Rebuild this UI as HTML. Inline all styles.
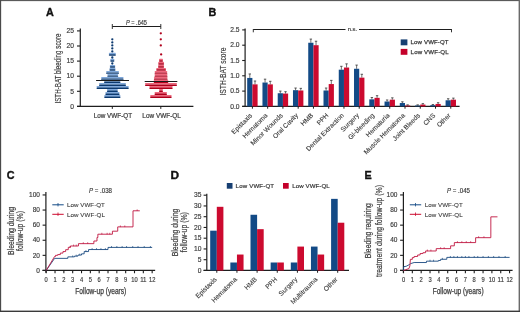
<!DOCTYPE html>
<html><head><meta charset="utf-8"><style>
html,body{margin:0;padding:0;background:#fff;}
body{width:520px;height:312px;overflow:hidden;}
svg{display:block;font-family:"Liberation Sans", sans-serif;will-change:transform;}

</style></head><body>
<svg width="520" height="312" viewBox="0 0 520 312">
<rect x="0" y="0" width="520" height="312" fill="#fff"/>
<text x="46.00" y="15.80" font-size="10.8" text-anchor="start" fill="#111" style="stroke:#111;stroke-width:0.35px" font-weight="bold">A</text>
<line x1="80.30" y1="28.60" x2="80.30" y2="107.00" stroke="#1e1e1e" stroke-width="1.2"/>
<line x1="77.00" y1="106.40" x2="193.40" y2="106.40" stroke="#1e1e1e" stroke-width="1.2"/>
<line x1="77.00" y1="106.40" x2="80.30" y2="106.40" stroke="#1e1e1e" stroke-width="1.1"/>
<text x="74.00" y="108.60" font-size="6.7" text-anchor="end" fill="#3a3a3a" style="stroke:#3a3a3a;stroke-width:0.16px">0</text>
<line x1="77.00" y1="91.30" x2="80.30" y2="91.30" stroke="#1e1e1e" stroke-width="1.1"/>
<text x="74.00" y="93.50" font-size="6.7" text-anchor="end" fill="#3a3a3a" style="stroke:#3a3a3a;stroke-width:0.16px">5</text>
<line x1="77.00" y1="76.20" x2="80.30" y2="76.20" stroke="#1e1e1e" stroke-width="1.1"/>
<text x="74.00" y="78.40" font-size="6.7" text-anchor="end" fill="#3a3a3a" style="stroke:#3a3a3a;stroke-width:0.16px">10</text>
<line x1="77.00" y1="61.10" x2="80.30" y2="61.10" stroke="#1e1e1e" stroke-width="1.1"/>
<text x="74.00" y="63.30" font-size="6.7" text-anchor="end" fill="#3a3a3a" style="stroke:#3a3a3a;stroke-width:0.16px">15</text>
<line x1="77.00" y1="46.00" x2="80.30" y2="46.00" stroke="#1e1e1e" stroke-width="1.1"/>
<text x="74.00" y="48.20" font-size="6.7" text-anchor="end" fill="#3a3a3a" style="stroke:#3a3a3a;stroke-width:0.16px">20</text>
<line x1="77.00" y1="30.90" x2="80.30" y2="30.90" stroke="#1e1e1e" stroke-width="1.1"/>
<text x="74.00" y="33.10" font-size="6.7" text-anchor="end" fill="#3a3a3a" style="stroke:#3a3a3a;stroke-width:0.16px">25</text>
<line x1="112.30" y1="106.40" x2="112.30" y2="108.90" stroke="#1e1e1e" stroke-width="1.0"/>
<line x1="160.80" y1="106.40" x2="160.80" y2="108.90" stroke="#1e1e1e" stroke-width="1.0"/>
<text x="112.90" y="118.10" font-size="6.5" text-anchor="middle" fill="#3a3a3a" style="stroke:#3a3a3a;stroke-width:0.2px" textLength="38.5" lengthAdjust="spacingAndGlyphs">Low VWF-QT</text>
<text x="161.60" y="118.10" font-size="6.5" text-anchor="middle" fill="#3a3a3a" style="stroke:#3a3a3a;stroke-width:0.2px" textLength="38.5" lengthAdjust="spacingAndGlyphs">Low VWF-QL</text>
<text x="61.40" y="68.50" font-size="8.3" text-anchor="middle" fill="#3a3a3a" style="stroke:#3a3a3a;stroke-width:0.15px" transform="rotate(-90 61.40 68.50)" textLength="70" lengthAdjust="spacingAndGlyphs">ISTH-BAT bleeding score</text>
<line x1="112.30" y1="26.50" x2="160.80" y2="26.50" stroke="#1e1e1e" stroke-width="1.0"/>
<line x1="112.30" y1="24.00" x2="112.30" y2="29.00" stroke="#1e1e1e" stroke-width="0.9"/>
<line x1="160.80" y1="24.00" x2="160.80" y2="29.00" stroke="#1e1e1e" stroke-width="0.9"/>
<text x="136.50" y="24.90" font-size="6.3" text-anchor="middle" fill="#3a3a3a" style="stroke:#3a3a3a;stroke-width:0.16px" textLength="21" lengthAdjust="spacingAndGlyphs"><tspan font-style="italic">P</tspan> = .645</text>
<rect x="104.20" y="95.09" width="16.30" height="1.6" rx="0.8" fill="#80a9dc"/>
<rect x="104.20" y="96.54" width="16.30" height="1.45" rx="0.7" fill="#0d3a70"/>
<rect x="105.30" y="92.07" width="14.30" height="1.6" rx="0.8" fill="#80a9dc"/>
<rect x="105.30" y="93.52" width="14.30" height="1.45" rx="0.7" fill="#0d3a70"/>
<rect x="106.90" y="89.05" width="11.00" height="1.6" rx="0.8" fill="#80a9dc"/>
<rect x="106.90" y="90.50" width="11.00" height="1.45" rx="0.7" fill="#0d3a70"/>
<rect x="96.50" y="86.03" width="32.30" height="1.6" rx="0.8" fill="#80a9dc"/>
<rect x="96.50" y="87.48" width="32.30" height="1.45" rx="0.7" fill="#0d3a70"/>
<rect x="99.00" y="83.01" width="27.00" height="1.6" rx="0.8" fill="#80a9dc"/>
<rect x="99.00" y="84.46" width="27.00" height="1.45" rx="0.7" fill="#0d3a70"/>
<rect x="104.00" y="79.99" width="16.50" height="1.6" rx="0.8" fill="#80a9dc"/>
<rect x="104.00" y="81.44" width="16.50" height="1.45" rx="0.7" fill="#0d3a70"/>
<rect x="101.10" y="76.97" width="22.50" height="1.6" rx="0.8" fill="#80a9dc"/>
<rect x="101.10" y="78.42" width="22.50" height="1.45" rx="0.7" fill="#0d3a70"/>
<rect x="107.30" y="73.95" width="10.90" height="1.6" rx="0.8" fill="#80a9dc"/>
<rect x="107.30" y="75.40" width="10.90" height="1.45" rx="0.7" fill="#0d3a70"/>
<rect x="106.10" y="70.93" width="12.90" height="1.6" rx="0.8" fill="#80a9dc"/>
<rect x="106.10" y="72.38" width="12.90" height="1.45" rx="0.7" fill="#0d3a70"/>
<rect x="109.40" y="67.91" width="6.10" height="1.6" rx="0.8" fill="#80a9dc"/>
<rect x="109.40" y="69.36" width="6.10" height="1.45" rx="0.7" fill="#0d3a70"/>
<rect x="109.80" y="64.89" width="5.45" height="1.6" rx="0.8" fill="#80a9dc"/>
<rect x="109.80" y="66.34" width="5.45" height="1.45" rx="0.7" fill="#0d3a70"/>
<circle cx="112.30" cy="63.52" r="1.15" fill="#0d3a70"/>
<rect x="110.25" y="58.85" width="4.15" height="1.6" rx="0.8" fill="#80a9dc"/>
<rect x="110.25" y="60.30" width="4.15" height="1.45" rx="0.7" fill="#0d3a70"/>
<circle cx="112.30" cy="57.48" r="1.15" fill="#0d3a70"/>
<rect x="108.80" y="52.81" width="7.10" height="1.6" rx="0.8" fill="#80a9dc"/>
<rect x="108.80" y="54.26" width="7.10" height="1.45" rx="0.7" fill="#0d3a70"/>
<circle cx="112.30" cy="51.44" r="1.15" fill="#0d3a70"/>
<circle cx="112.30" cy="48.42" r="1.15" fill="#0d3a70"/>
<circle cx="112.30" cy="45.40" r="1.15" fill="#0d3a70"/>
<circle cx="112.30" cy="42.38" r="1.15" fill="#0d3a70"/>
<circle cx="112.30" cy="39.36" r="1.15" fill="#0d3a70"/>
<rect x="150.10" y="95.09" width="21.60" height="1.6" rx="0.8" fill="#f0687e"/>
<rect x="150.10" y="96.54" width="21.60" height="1.45" rx="0.7" fill="#b0001c"/>
<rect x="154.50" y="92.07" width="12.50" height="1.6" rx="0.8" fill="#f0687e"/>
<rect x="154.50" y="93.52" width="12.50" height="1.45" rx="0.7" fill="#b0001c"/>
<rect x="159.00" y="89.05" width="4.00" height="1.6" rx="0.8" fill="#f0687e"/>
<rect x="159.00" y="90.50" width="4.00" height="1.45" rx="0.7" fill="#b0001c"/>
<rect x="149.30" y="86.03" width="23.40" height="1.6" rx="0.8" fill="#f0687e"/>
<rect x="149.30" y="87.48" width="23.40" height="1.45" rx="0.7" fill="#b0001c"/>
<rect x="145.00" y="83.01" width="32.00" height="1.6" rx="0.8" fill="#f0687e"/>
<rect x="145.00" y="84.46" width="32.00" height="1.45" rx="0.7" fill="#b0001c"/>
<rect x="153.70" y="79.99" width="14.60" height="1.6" rx="0.8" fill="#f0687e"/>
<rect x="153.70" y="81.44" width="14.60" height="1.45" rx="0.7" fill="#b0001c"/>
<rect x="153.90" y="76.97" width="13.70" height="1.6" rx="0.8" fill="#f0687e"/>
<rect x="153.90" y="78.42" width="13.70" height="1.45" rx="0.7" fill="#b0001c"/>
<rect x="154.50" y="73.95" width="13.00" height="1.6" rx="0.8" fill="#f0687e"/>
<rect x="154.50" y="75.40" width="13.00" height="1.45" rx="0.7" fill="#b0001c"/>
<rect x="154.60" y="70.93" width="12.70" height="1.6" rx="0.8" fill="#f0687e"/>
<rect x="154.60" y="72.38" width="12.70" height="1.45" rx="0.7" fill="#b0001c"/>
<rect x="156.20" y="67.91" width="9.80" height="1.6" rx="0.8" fill="#f0687e"/>
<rect x="156.20" y="69.36" width="9.80" height="1.45" rx="0.7" fill="#b0001c"/>
<rect x="158.00" y="64.89" width="6.10" height="1.6" rx="0.8" fill="#f0687e"/>
<rect x="158.00" y="66.34" width="6.10" height="1.45" rx="0.7" fill="#b0001c"/>
<rect x="158.20" y="61.87" width="5.90" height="1.6" rx="0.8" fill="#f0687e"/>
<rect x="158.20" y="63.32" width="5.90" height="1.45" rx="0.7" fill="#b0001c"/>
<rect x="159.00" y="58.85" width="4.00" height="1.6" rx="0.8" fill="#f0687e"/>
<rect x="159.00" y="60.30" width="4.00" height="1.45" rx="0.7" fill="#b0001c"/>
<circle cx="161.15" cy="54.46" r="1.15" fill="#b0001c"/>
<circle cx="160.80" cy="45.40" r="1.15" fill="#b0001c"/>
<circle cx="160.80" cy="39.36" r="1.15" fill="#b0001c"/>
<circle cx="160.80" cy="33.32" r="1.15" fill="#b0001c"/>
<line x1="96.10" y1="80.50" x2="129.00" y2="80.50" stroke="#1a1a1a" stroke-width="1.1"/>
<line x1="144.70" y1="81.50" x2="177.30" y2="81.50" stroke="#1a1a1a" stroke-width="1.1"/>
<text x="208.50" y="16.00" font-size="10.8" text-anchor="start" fill="#111" style="stroke:#111;stroke-width:0.35px" font-weight="bold">B</text>
<line x1="245.10" y1="28.60" x2="245.10" y2="107.00" stroke="#1e1e1e" stroke-width="1.2"/>
<line x1="242.20" y1="106.40" x2="459.60" y2="106.40" stroke="#1e1e1e" stroke-width="1.2"/>
<line x1="242.20" y1="106.40" x2="245.10" y2="106.40" stroke="#1e1e1e" stroke-width="1.1"/>
<text x="239.60" y="108.60" font-size="6.7" text-anchor="end" fill="#3a3a3a" style="stroke:#3a3a3a;stroke-width:0.16px">0.0</text>
<line x1="242.20" y1="91.10" x2="245.10" y2="91.10" stroke="#1e1e1e" stroke-width="1.1"/>
<text x="239.60" y="93.30" font-size="6.7" text-anchor="end" fill="#3a3a3a" style="stroke:#3a3a3a;stroke-width:0.16px">0.5</text>
<line x1="242.20" y1="75.80" x2="245.10" y2="75.80" stroke="#1e1e1e" stroke-width="1.1"/>
<text x="239.60" y="78.00" font-size="6.7" text-anchor="end" fill="#3a3a3a" style="stroke:#3a3a3a;stroke-width:0.16px">1.0</text>
<line x1="242.20" y1="60.50" x2="245.10" y2="60.50" stroke="#1e1e1e" stroke-width="1.1"/>
<text x="239.60" y="62.70" font-size="6.7" text-anchor="end" fill="#3a3a3a" style="stroke:#3a3a3a;stroke-width:0.16px">1.5</text>
<line x1="242.20" y1="45.20" x2="245.10" y2="45.20" stroke="#1e1e1e" stroke-width="1.1"/>
<text x="239.60" y="47.40" font-size="6.7" text-anchor="end" fill="#3a3a3a" style="stroke:#3a3a3a;stroke-width:0.16px">2.0</text>
<line x1="242.20" y1="29.90" x2="245.10" y2="29.90" stroke="#1e1e1e" stroke-width="1.1"/>
<text x="239.60" y="32.10" font-size="6.7" text-anchor="end" fill="#3a3a3a" style="stroke:#3a3a3a;stroke-width:0.16px">2.5</text>
<text x="225.50" y="71.50" font-size="8.3" text-anchor="middle" fill="#3a3a3a" style="stroke:#3a3a3a;stroke-width:0.15px" transform="rotate(-90 225.50 71.50)" textLength="48" lengthAdjust="spacingAndGlyphs">ISTH-BAT score</text>
<rect x="247.20" y="77.94" width="5.20" height="28.46" fill="#134a86"/>
<line x1="249.80" y1="73.96" x2="249.80" y2="77.94" stroke="#333" stroke-width="0.7"/>
<line x1="248.60" y1="73.96" x2="251.00" y2="73.96" stroke="#333" stroke-width="0.8"/>
<rect x="252.40" y="84.37" width="5.20" height="22.03" fill="#cc0a2f"/>
<line x1="255.00" y1="81.00" x2="255.00" y2="84.37" stroke="#333" stroke-width="0.7"/>
<line x1="253.80" y1="81.00" x2="256.20" y2="81.00" stroke="#333" stroke-width="0.8"/>
<line x1="252.40" y1="106.40" x2="252.40" y2="108.70" stroke="#1e1e1e" stroke-width="1.0"/>
<text x="252.70" y="115.90" font-size="6.6" text-anchor="end" fill="#3a3a3a" style="stroke:#3a3a3a;stroke-width:0.12px" transform="rotate(-45 252.70 115.90)">Epistaxis</text>
<rect x="262.46" y="82.53" width="5.20" height="23.87" fill="#134a86"/>
<line x1="265.06" y1="79.17" x2="265.06" y2="82.53" stroke="#333" stroke-width="0.7"/>
<line x1="263.86" y1="79.17" x2="266.26" y2="79.17" stroke="#333" stroke-width="0.8"/>
<rect x="267.66" y="84.37" width="5.20" height="22.03" fill="#cc0a2f"/>
<line x1="270.26" y1="81.31" x2="270.26" y2="84.37" stroke="#333" stroke-width="0.7"/>
<line x1="269.06" y1="81.31" x2="271.46" y2="81.31" stroke="#333" stroke-width="0.8"/>
<line x1="267.66" y1="106.40" x2="267.66" y2="108.70" stroke="#1e1e1e" stroke-width="1.0"/>
<text x="267.96" y="115.90" font-size="6.6" text-anchor="end" fill="#3a3a3a" style="stroke:#3a3a3a;stroke-width:0.12px" transform="rotate(-45 267.96 115.90)">Hematoma</text>
<rect x="277.72" y="93.24" width="5.20" height="13.16" fill="#134a86"/>
<line x1="280.32" y1="91.10" x2="280.32" y2="93.24" stroke="#333" stroke-width="0.7"/>
<line x1="279.12" y1="91.10" x2="281.52" y2="91.10" stroke="#333" stroke-width="0.8"/>
<rect x="282.92" y="93.55" width="5.20" height="12.85" fill="#cc0a2f"/>
<line x1="285.52" y1="91.71" x2="285.52" y2="93.55" stroke="#333" stroke-width="0.7"/>
<line x1="284.32" y1="91.71" x2="286.72" y2="91.71" stroke="#333" stroke-width="0.8"/>
<line x1="282.92" y1="106.40" x2="282.92" y2="108.70" stroke="#1e1e1e" stroke-width="1.0"/>
<text x="283.22" y="115.90" font-size="6.6" text-anchor="end" fill="#3a3a3a" style="stroke:#3a3a3a;stroke-width:0.12px" transform="rotate(-45 283.22 115.90)">Minor Wounds</text>
<rect x="292.98" y="90.18" width="5.20" height="16.22" fill="#134a86"/>
<line x1="295.58" y1="88.04" x2="295.58" y2="90.18" stroke="#333" stroke-width="0.7"/>
<line x1="294.38" y1="88.04" x2="296.78" y2="88.04" stroke="#333" stroke-width="0.8"/>
<rect x="298.18" y="90.49" width="5.20" height="15.91" fill="#cc0a2f"/>
<line x1="300.78" y1="88.35" x2="300.78" y2="90.49" stroke="#333" stroke-width="0.7"/>
<line x1="299.58" y1="88.35" x2="301.98" y2="88.35" stroke="#333" stroke-width="0.8"/>
<line x1="298.18" y1="106.40" x2="298.18" y2="108.70" stroke="#1e1e1e" stroke-width="1.0"/>
<text x="298.48" y="115.90" font-size="6.6" text-anchor="end" fill="#3a3a3a" style="stroke:#3a3a3a;stroke-width:0.12px" transform="rotate(-45 298.48 115.90)">Oral Cavity</text>
<rect x="308.24" y="42.75" width="5.20" height="63.65" fill="#134a86"/>
<line x1="310.84" y1="39.08" x2="310.84" y2="42.75" stroke="#333" stroke-width="0.7"/>
<line x1="309.64" y1="39.08" x2="312.04" y2="39.08" stroke="#333" stroke-width="0.8"/>
<rect x="313.44" y="45.20" width="5.20" height="61.20" fill="#cc0a2f"/>
<line x1="316.04" y1="41.22" x2="316.04" y2="45.20" stroke="#333" stroke-width="0.7"/>
<line x1="314.84" y1="41.22" x2="317.24" y2="41.22" stroke="#333" stroke-width="0.8"/>
<line x1="313.44" y1="106.40" x2="313.44" y2="108.70" stroke="#1e1e1e" stroke-width="1.0"/>
<text x="313.74" y="115.90" font-size="6.6" text-anchor="end" fill="#3a3a3a" style="stroke:#3a3a3a;stroke-width:0.12px" transform="rotate(-45 313.74 115.90)">HMB</text>
<rect x="323.50" y="90.49" width="5.20" height="15.91" fill="#134a86"/>
<line x1="326.10" y1="88.04" x2="326.10" y2="90.49" stroke="#333" stroke-width="0.7"/>
<line x1="324.90" y1="88.04" x2="327.30" y2="88.04" stroke="#333" stroke-width="0.8"/>
<rect x="328.70" y="84.06" width="5.20" height="22.34" fill="#cc0a2f"/>
<line x1="331.30" y1="80.39" x2="331.30" y2="84.06" stroke="#333" stroke-width="0.7"/>
<line x1="330.10" y1="80.39" x2="332.50" y2="80.39" stroke="#333" stroke-width="0.8"/>
<line x1="328.70" y1="106.40" x2="328.70" y2="108.70" stroke="#1e1e1e" stroke-width="1.0"/>
<text x="329.00" y="115.90" font-size="6.6" text-anchor="end" fill="#3a3a3a" style="stroke:#3a3a3a;stroke-width:0.12px" transform="rotate(-45 329.00 115.90)">PPH</text>
<rect x="338.76" y="69.68" width="5.20" height="36.72" fill="#134a86"/>
<line x1="341.36" y1="66.31" x2="341.36" y2="69.68" stroke="#333" stroke-width="0.7"/>
<line x1="340.16" y1="66.31" x2="342.56" y2="66.31" stroke="#333" stroke-width="0.8"/>
<rect x="343.96" y="67.54" width="5.20" height="38.86" fill="#cc0a2f"/>
<line x1="346.56" y1="63.87" x2="346.56" y2="67.54" stroke="#333" stroke-width="0.7"/>
<line x1="345.36" y1="63.87" x2="347.76" y2="63.87" stroke="#333" stroke-width="0.8"/>
<line x1="343.96" y1="106.40" x2="343.96" y2="108.70" stroke="#1e1e1e" stroke-width="1.0"/>
<text x="344.26" y="115.90" font-size="6.6" text-anchor="end" fill="#3a3a3a" style="stroke:#3a3a3a;stroke-width:0.12px" transform="rotate(-45 344.26 115.90)">Dental Extraction</text>
<rect x="354.02" y="68.76" width="5.20" height="37.64" fill="#134a86"/>
<line x1="356.62" y1="65.09" x2="356.62" y2="68.76" stroke="#333" stroke-width="0.7"/>
<line x1="355.42" y1="65.09" x2="357.82" y2="65.09" stroke="#333" stroke-width="0.8"/>
<rect x="359.22" y="77.64" width="5.20" height="28.76" fill="#cc0a2f"/>
<line x1="361.82" y1="74.27" x2="361.82" y2="77.64" stroke="#333" stroke-width="0.7"/>
<line x1="360.62" y1="74.27" x2="363.02" y2="74.27" stroke="#333" stroke-width="0.8"/>
<line x1="359.22" y1="106.40" x2="359.22" y2="108.70" stroke="#1e1e1e" stroke-width="1.0"/>
<text x="359.52" y="115.90" font-size="6.6" text-anchor="end" fill="#3a3a3a" style="stroke:#3a3a3a;stroke-width:0.12px" transform="rotate(-45 359.52 115.90)">Surgery</text>
<rect x="369.28" y="99.36" width="5.20" height="7.04" fill="#134a86"/>
<line x1="371.88" y1="97.53" x2="371.88" y2="99.36" stroke="#333" stroke-width="0.7"/>
<line x1="370.68" y1="97.53" x2="373.08" y2="97.53" stroke="#333" stroke-width="0.8"/>
<rect x="374.48" y="97.83" width="5.20" height="8.57" fill="#cc0a2f"/>
<line x1="377.08" y1="95.69" x2="377.08" y2="97.83" stroke="#333" stroke-width="0.7"/>
<line x1="375.88" y1="95.69" x2="378.28" y2="95.69" stroke="#333" stroke-width="0.8"/>
<line x1="374.48" y1="106.40" x2="374.48" y2="108.70" stroke="#1e1e1e" stroke-width="1.0"/>
<text x="374.78" y="115.90" font-size="6.6" text-anchor="end" fill="#3a3a3a" style="stroke:#3a3a3a;stroke-width:0.12px" transform="rotate(-45 374.78 115.90)">GI-bleeding</text>
<rect x="384.54" y="101.50" width="5.20" height="4.90" fill="#134a86"/>
<line x1="387.14" y1="99.97" x2="387.14" y2="101.50" stroke="#333" stroke-width="0.7"/>
<line x1="385.94" y1="99.97" x2="388.34" y2="99.97" stroke="#333" stroke-width="0.8"/>
<rect x="389.74" y="99.67" width="5.20" height="6.73" fill="#cc0a2f"/>
<line x1="392.34" y1="97.83" x2="392.34" y2="99.67" stroke="#333" stroke-width="0.7"/>
<line x1="391.14" y1="97.83" x2="393.54" y2="97.83" stroke="#333" stroke-width="0.8"/>
<line x1="389.74" y1="106.40" x2="389.74" y2="108.70" stroke="#1e1e1e" stroke-width="1.0"/>
<text x="390.04" y="115.90" font-size="6.6" text-anchor="end" fill="#3a3a3a" style="stroke:#3a3a3a;stroke-width:0.12px" transform="rotate(-45 390.04 115.90)">Hematuria</text>
<rect x="399.80" y="103.03" width="5.20" height="3.37" fill="#134a86"/>
<line x1="402.40" y1="101.81" x2="402.40" y2="103.03" stroke="#333" stroke-width="0.7"/>
<line x1="401.20" y1="101.81" x2="403.60" y2="101.81" stroke="#333" stroke-width="0.8"/>
<rect x="405.00" y="105.48" width="5.20" height="0.92" fill="#cc0a2f"/>
<line x1="407.60" y1="104.87" x2="407.60" y2="105.48" stroke="#333" stroke-width="0.7"/>
<line x1="406.40" y1="104.87" x2="408.80" y2="104.87" stroke="#333" stroke-width="0.8"/>
<line x1="405.00" y1="106.40" x2="405.00" y2="108.70" stroke="#1e1e1e" stroke-width="1.0"/>
<text x="405.30" y="115.90" font-size="6.6" text-anchor="end" fill="#3a3a3a" style="stroke:#3a3a3a;stroke-width:0.12px" transform="rotate(-45 405.30 115.90)">Muscle Hematoma</text>
<rect x="415.06" y="105.48" width="5.20" height="0.92" fill="#134a86"/>
<line x1="417.66" y1="104.87" x2="417.66" y2="105.48" stroke="#333" stroke-width="0.7"/>
<line x1="416.46" y1="104.87" x2="418.86" y2="104.87" stroke="#333" stroke-width="0.8"/>
<rect x="420.26" y="104.56" width="5.20" height="1.84" fill="#cc0a2f"/>
<line x1="422.86" y1="103.65" x2="422.86" y2="104.56" stroke="#333" stroke-width="0.7"/>
<line x1="421.66" y1="103.65" x2="424.06" y2="103.65" stroke="#333" stroke-width="0.8"/>
<line x1="420.26" y1="106.40" x2="420.26" y2="108.70" stroke="#1e1e1e" stroke-width="1.0"/>
<text x="420.56" y="115.90" font-size="6.6" text-anchor="end" fill="#3a3a3a" style="stroke:#3a3a3a;stroke-width:0.12px" transform="rotate(-45 420.56 115.90)">Joint Bleeds</text>
<rect x="430.32" y="105.18" width="5.20" height="1.22" fill="#134a86"/>
<line x1="432.92" y1="104.56" x2="432.92" y2="105.18" stroke="#333" stroke-width="0.7"/>
<line x1="431.72" y1="104.56" x2="434.12" y2="104.56" stroke="#333" stroke-width="0.8"/>
<rect x="435.52" y="103.95" width="5.20" height="2.45" fill="#cc0a2f"/>
<line x1="438.12" y1="102.73" x2="438.12" y2="103.95" stroke="#333" stroke-width="0.7"/>
<line x1="436.92" y1="102.73" x2="439.32" y2="102.73" stroke="#333" stroke-width="0.8"/>
<line x1="435.52" y1="106.40" x2="435.52" y2="108.70" stroke="#1e1e1e" stroke-width="1.0"/>
<text x="435.82" y="115.90" font-size="6.6" text-anchor="end" fill="#3a3a3a" style="stroke:#3a3a3a;stroke-width:0.12px" transform="rotate(-45 435.82 115.90)">CNS</text>
<rect x="445.58" y="100.28" width="5.20" height="6.12" fill="#134a86"/>
<line x1="448.18" y1="98.75" x2="448.18" y2="100.28" stroke="#333" stroke-width="0.7"/>
<line x1="446.98" y1="98.75" x2="449.38" y2="98.75" stroke="#333" stroke-width="0.8"/>
<rect x="450.78" y="99.67" width="5.20" height="6.73" fill="#cc0a2f"/>
<line x1="453.38" y1="98.14" x2="453.38" y2="99.67" stroke="#333" stroke-width="0.7"/>
<line x1="452.18" y1="98.14" x2="454.58" y2="98.14" stroke="#333" stroke-width="0.8"/>
<line x1="450.78" y1="106.40" x2="450.78" y2="108.70" stroke="#1e1e1e" stroke-width="1.0"/>
<text x="451.08" y="115.90" font-size="6.6" text-anchor="end" fill="#3a3a3a" style="stroke:#3a3a3a;stroke-width:0.12px" transform="rotate(-45 451.08 115.90)">Other</text>
<line x1="253.30" y1="29.50" x2="345.50" y2="29.50" stroke="#1e1e1e" stroke-width="1.0"/>
<line x1="359.00" y1="29.50" x2="451.50" y2="29.50" stroke="#1e1e1e" stroke-width="1.0"/>
<line x1="253.30" y1="29.00" x2="253.30" y2="32.30" stroke="#1e1e1e" stroke-width="0.9"/>
<line x1="451.50" y1="29.00" x2="451.50" y2="32.30" stroke="#1e1e1e" stroke-width="0.9"/>
<text x="352.40" y="30.90" font-size="5.9" text-anchor="middle" fill="#3a3a3a" style="stroke:#3a3a3a;stroke-width:0.16px" textLength="9.4" lengthAdjust="spacingAndGlyphs">n.s.</text>
<rect x="400.70" y="39.40" width="6.70" height="5.90" fill="#173f72"/>
<rect x="400.70" y="48.90" width="6.70" height="5.90" fill="#c4002a"/>
<text x="410.60" y="44.40" font-size="6.1" text-anchor="start" fill="#3a3a3a" style="stroke:#3a3a3a;stroke-width:0.25px" textLength="38" lengthAdjust="spacing">Low VWF-QT</text>
<text x="410.60" y="54.20" font-size="6.1" text-anchor="start" fill="#3a3a3a" style="stroke:#3a3a3a;stroke-width:0.25px" textLength="38" lengthAdjust="spacing">Low VWF-QL</text>
<text x="6.80" y="178.70" font-size="10.8" text-anchor="start" fill="#111" style="stroke:#111;stroke-width:0.35px" font-weight="bold">C</text>
<line x1="45.90" y1="191.90" x2="45.90" y2="272.75" stroke="#1e1e1e" stroke-width="1.2"/>
<line x1="42.50" y1="270.45" x2="155.16" y2="270.45" stroke="#1e1e1e" stroke-width="1.2"/>
<line x1="42.60" y1="270.45" x2="45.90" y2="270.45" stroke="#1e1e1e" stroke-width="1.1"/>
<text x="39.90" y="272.65" font-size="6.5" text-anchor="end" fill="#3a3a3a" style="stroke:#3a3a3a;stroke-width:0.16px">0</text>
<line x1="42.60" y1="255.35" x2="45.90" y2="255.35" stroke="#1e1e1e" stroke-width="1.1"/>
<text x="39.90" y="257.55" font-size="6.5" text-anchor="end" fill="#3a3a3a" style="stroke:#3a3a3a;stroke-width:0.16px">20</text>
<line x1="42.60" y1="240.25" x2="45.90" y2="240.25" stroke="#1e1e1e" stroke-width="1.1"/>
<text x="39.90" y="242.45" font-size="6.5" text-anchor="end" fill="#3a3a3a" style="stroke:#3a3a3a;stroke-width:0.16px">40</text>
<line x1="42.60" y1="225.15" x2="45.90" y2="225.15" stroke="#1e1e1e" stroke-width="1.1"/>
<text x="39.90" y="227.35" font-size="6.5" text-anchor="end" fill="#3a3a3a" style="stroke:#3a3a3a;stroke-width:0.16px">60</text>
<line x1="42.60" y1="210.05" x2="45.90" y2="210.05" stroke="#1e1e1e" stroke-width="1.1"/>
<text x="39.90" y="212.25" font-size="6.5" text-anchor="end" fill="#3a3a3a" style="stroke:#3a3a3a;stroke-width:0.16px">80</text>
<line x1="42.60" y1="194.95" x2="45.90" y2="194.95" stroke="#1e1e1e" stroke-width="1.1"/>
<text x="39.90" y="197.15" font-size="6.5" text-anchor="end" fill="#3a3a3a" style="stroke:#3a3a3a;stroke-width:0.16px">100</text>
<line x1="46.20" y1="270.45" x2="46.20" y2="273.25" stroke="#1e1e1e" stroke-width="1.1"/>
<text x="46.20" y="281.75" font-size="6.6" text-anchor="middle" fill="#3a3a3a" style="stroke:#3a3a3a;stroke-width:0.16px" textLength="3.2" lengthAdjust="spacingAndGlyphs">0</text>
<line x1="55.03" y1="270.45" x2="55.03" y2="273.25" stroke="#1e1e1e" stroke-width="1.1"/>
<text x="55.03" y="281.75" font-size="6.6" text-anchor="middle" fill="#3a3a3a" style="stroke:#3a3a3a;stroke-width:0.16px" textLength="3.2" lengthAdjust="spacingAndGlyphs">1</text>
<line x1="63.86" y1="270.45" x2="63.86" y2="273.25" stroke="#1e1e1e" stroke-width="1.1"/>
<text x="63.86" y="281.75" font-size="6.6" text-anchor="middle" fill="#3a3a3a" style="stroke:#3a3a3a;stroke-width:0.16px" textLength="3.2" lengthAdjust="spacingAndGlyphs">2</text>
<line x1="72.69" y1="270.45" x2="72.69" y2="273.25" stroke="#1e1e1e" stroke-width="1.1"/>
<text x="72.69" y="281.75" font-size="6.6" text-anchor="middle" fill="#3a3a3a" style="stroke:#3a3a3a;stroke-width:0.16px" textLength="3.2" lengthAdjust="spacingAndGlyphs">3</text>
<line x1="81.52" y1="270.45" x2="81.52" y2="273.25" stroke="#1e1e1e" stroke-width="1.1"/>
<text x="81.52" y="281.75" font-size="6.6" text-anchor="middle" fill="#3a3a3a" style="stroke:#3a3a3a;stroke-width:0.16px" textLength="3.2" lengthAdjust="spacingAndGlyphs">4</text>
<line x1="90.35" y1="270.45" x2="90.35" y2="273.25" stroke="#1e1e1e" stroke-width="1.1"/>
<text x="90.35" y="281.75" font-size="6.6" text-anchor="middle" fill="#3a3a3a" style="stroke:#3a3a3a;stroke-width:0.16px" textLength="3.2" lengthAdjust="spacingAndGlyphs">5</text>
<line x1="99.18" y1="270.45" x2="99.18" y2="273.25" stroke="#1e1e1e" stroke-width="1.1"/>
<text x="99.18" y="281.75" font-size="6.6" text-anchor="middle" fill="#3a3a3a" style="stroke:#3a3a3a;stroke-width:0.16px" textLength="3.2" lengthAdjust="spacingAndGlyphs">6</text>
<line x1="108.01" y1="270.45" x2="108.01" y2="273.25" stroke="#1e1e1e" stroke-width="1.1"/>
<text x="108.01" y="281.75" font-size="6.6" text-anchor="middle" fill="#3a3a3a" style="stroke:#3a3a3a;stroke-width:0.16px" textLength="3.2" lengthAdjust="spacingAndGlyphs">7</text>
<line x1="116.84" y1="270.45" x2="116.84" y2="273.25" stroke="#1e1e1e" stroke-width="1.1"/>
<text x="116.84" y="281.75" font-size="6.6" text-anchor="middle" fill="#3a3a3a" style="stroke:#3a3a3a;stroke-width:0.16px" textLength="3.2" lengthAdjust="spacingAndGlyphs">8</text>
<line x1="125.67" y1="270.45" x2="125.67" y2="273.25" stroke="#1e1e1e" stroke-width="1.1"/>
<text x="125.67" y="281.75" font-size="6.6" text-anchor="middle" fill="#3a3a3a" style="stroke:#3a3a3a;stroke-width:0.16px" textLength="3.2" lengthAdjust="spacingAndGlyphs">9</text>
<line x1="134.50" y1="270.45" x2="134.50" y2="273.25" stroke="#1e1e1e" stroke-width="1.1"/>
<text x="134.50" y="281.75" font-size="6.6" text-anchor="middle" fill="#3a3a3a" style="stroke:#3a3a3a;stroke-width:0.16px" textLength="6.4" lengthAdjust="spacingAndGlyphs">10</text>
<line x1="143.33" y1="270.45" x2="143.33" y2="273.25" stroke="#1e1e1e" stroke-width="1.1"/>
<text x="143.33" y="281.75" font-size="6.6" text-anchor="middle" fill="#3a3a3a" style="stroke:#3a3a3a;stroke-width:0.16px" textLength="6.4" lengthAdjust="spacingAndGlyphs">11</text>
<line x1="152.16" y1="270.45" x2="152.16" y2="273.25" stroke="#1e1e1e" stroke-width="1.1"/>
<text x="152.16" y="281.75" font-size="6.6" text-anchor="middle" fill="#3a3a3a" style="stroke:#3a3a3a;stroke-width:0.16px" textLength="6.4" lengthAdjust="spacingAndGlyphs">12</text>
<text x="100.78" y="293.90" font-size="8.6" text-anchor="middle" fill="#3a3a3a" style="stroke:#3a3a3a;stroke-width:0.25px" textLength="51" lengthAdjust="spacingAndGlyphs">Follow-up (years)</text>
<text x="13.80" y="231.00" font-size="8.5" text-anchor="middle" fill="#3a3a3a" style="stroke:#3a3a3a;stroke-width:0.2px" transform="rotate(-90 13.80 231.00)" textLength="48" lengthAdjust="spacingAndGlyphs">Bleeding during</text>
<text x="23.30" y="231.00" font-size="8.5" text-anchor="middle" fill="#3a3a3a" style="stroke:#3a3a3a;stroke-width:0.2px" transform="rotate(-90 23.30 231.00)" textLength="40" lengthAdjust="spacingAndGlyphs">follow-up (%)</text>
<text x="100.50" y="193.40" font-size="6.4" text-anchor="middle" fill="#3a3a3a" style="stroke:#3a3a3a;stroke-width:0.16px" textLength="23" lengthAdjust="spacingAndGlyphs"><tspan font-style="italic">P</tspan> = .038</text>
<line x1="52.30" y1="204.80" x2="63.70" y2="204.80" stroke="#134a86" stroke-width="1.0"/>
<line x1="58.00" y1="203.00" x2="58.00" y2="206.40" stroke="#134a86" stroke-width="0.8"/>
<line x1="52.30" y1="214.30" x2="63.70" y2="214.30" stroke="#cc0a2f" stroke-width="1.0"/>
<line x1="58.00" y1="212.50" x2="58.00" y2="215.90" stroke="#cc0a2f" stroke-width="0.8"/>
<text x="66.90" y="206.90" font-size="6.2" text-anchor="start" fill="#3a3a3a" style="stroke:#3a3a3a;stroke-width:0.1px" textLength="38" lengthAdjust="spacing">Low VWF-QT</text>
<text x="66.90" y="216.50" font-size="6.2" text-anchor="start" fill="#3a3a3a" style="stroke:#3a3a3a;stroke-width:0.1px" textLength="38" lengthAdjust="spacing">Low VWF-QL</text>
<path d="M46.20,270.45 L54.59,258.37 L67.83,258.37 L67.83,256.86 L74.46,256.86 L74.46,256.10 L77.99,256.10 L77.99,255.05 L81.52,255.05 L81.52,253.84 L84.17,253.84 L84.17,251.57 L88.58,251.57 L88.58,249.54 L108.01,249.54 L108.01,247.42 L152.16,247.42" fill="none" stroke="#1a4a80" stroke-width="0.9" stroke-linejoin="miter"/>
<path d="M46.20,270.45 L54.59,256.48 L55.47,256.48 L55.47,255.35 L57.68,255.35 L57.68,254.59 L60.33,254.59 L60.33,253.08 L62.98,253.08 L62.98,251.57 L65.63,251.57 L65.63,249.69 L68.28,249.69 L68.28,247.35 L70.48,247.35 L70.48,245.99 L78.43,245.99 L78.43,243.65 L93.88,243.65 L93.88,241.00 L96.97,241.00 L96.97,237.53 L97.86,237.53 L97.86,234.21 L112.42,234.21 L112.42,231.19 L117.72,231.19 L117.72,226.89 L133.00,226.89 L133.00,210.80 L139.80,210.80" fill="none" stroke="#bf1540" stroke-width="0.9" stroke-linejoin="miter"/>
<line x1="72.69" y1="255.46" x2="72.69" y2="257.06" stroke="#1a4a80" stroke-width="0.7"/>
<line x1="76.22" y1="254.70" x2="76.22" y2="256.30" stroke="#1a4a80" stroke-width="0.7"/>
<line x1="79.75" y1="253.65" x2="79.75" y2="255.25" stroke="#1a4a80" stroke-width="0.7"/>
<line x1="85.94" y1="250.17" x2="85.94" y2="251.77" stroke="#1a4a80" stroke-width="0.7"/>
<line x1="92.12" y1="248.14" x2="92.12" y2="249.74" stroke="#1a4a80" stroke-width="0.7"/>
<line x1="96.53" y1="248.14" x2="96.53" y2="249.74" stroke="#1a4a80" stroke-width="0.7"/>
<line x1="100.95" y1="248.14" x2="100.95" y2="249.74" stroke="#1a4a80" stroke-width="0.7"/>
<line x1="105.36" y1="248.14" x2="105.36" y2="249.74" stroke="#1a4a80" stroke-width="0.7"/>
<line x1="111.54" y1="246.02" x2="111.54" y2="247.62" stroke="#1a4a80" stroke-width="0.7"/>
<line x1="116.84" y1="246.02" x2="116.84" y2="247.62" stroke="#1a4a80" stroke-width="0.7"/>
<line x1="122.14" y1="246.02" x2="122.14" y2="247.62" stroke="#1a4a80" stroke-width="0.7"/>
<line x1="126.55" y1="246.02" x2="126.55" y2="247.62" stroke="#1a4a80" stroke-width="0.7"/>
<line x1="132.73" y1="246.02" x2="132.73" y2="247.62" stroke="#1a4a80" stroke-width="0.7"/>
<line x1="138.03" y1="246.02" x2="138.03" y2="247.62" stroke="#1a4a80" stroke-width="0.7"/>
<line x1="144.21" y1="246.02" x2="144.21" y2="247.62" stroke="#1a4a80" stroke-width="0.7"/>
<line x1="150.39" y1="246.02" x2="150.39" y2="247.62" stroke="#1a4a80" stroke-width="0.7"/>
<line x1="70.04" y1="245.95" x2="70.04" y2="247.55" stroke="#bf1540" stroke-width="0.7"/>
<line x1="73.57" y1="244.59" x2="73.57" y2="246.19" stroke="#bf1540" stroke-width="0.7"/>
<line x1="76.22" y1="244.59" x2="76.22" y2="246.19" stroke="#bf1540" stroke-width="0.7"/>
<line x1="83.29" y1="242.25" x2="83.29" y2="243.85" stroke="#bf1540" stroke-width="0.7"/>
<line x1="87.70" y1="242.25" x2="87.70" y2="243.85" stroke="#bf1540" stroke-width="0.7"/>
<line x1="101.83" y1="232.81" x2="101.83" y2="234.41" stroke="#bf1540" stroke-width="0.7"/>
<line x1="107.13" y1="232.81" x2="107.13" y2="234.41" stroke="#bf1540" stroke-width="0.7"/>
<line x1="109.78" y1="232.81" x2="109.78" y2="234.41" stroke="#bf1540" stroke-width="0.7"/>
<line x1="120.37" y1="225.49" x2="120.37" y2="227.09" stroke="#bf1540" stroke-width="0.7"/>
<line x1="124.79" y1="225.49" x2="124.79" y2="227.09" stroke="#bf1540" stroke-width="0.7"/>
<line x1="137.15" y1="209.40" x2="137.15" y2="211.00" stroke="#bf1540" stroke-width="0.7"/>
<text x="170.50" y="178.90" font-size="10.8" text-anchor="start" fill="#111" style="stroke:#111;stroke-width:0.35px" font-weight="bold" textLength="8.6" lengthAdjust="spacingAndGlyphs">D</text>
<line x1="206.80" y1="193.80" x2="206.80" y2="271.05" stroke="#1e1e1e" stroke-width="1.2"/>
<line x1="203.60" y1="270.45" x2="349.00" y2="270.45" stroke="#1e1e1e" stroke-width="1.2"/>
<line x1="203.60" y1="270.45" x2="206.80" y2="270.45" stroke="#1e1e1e" stroke-width="1.1"/>
<text x="201.40" y="272.65" font-size="6.7" text-anchor="end" fill="#3a3a3a" style="stroke:#3a3a3a;stroke-width:0.16px">0</text>
<line x1="203.60" y1="259.70" x2="206.80" y2="259.70" stroke="#1e1e1e" stroke-width="1.1"/>
<text x="201.40" y="261.90" font-size="6.7" text-anchor="end" fill="#3a3a3a" style="stroke:#3a3a3a;stroke-width:0.16px">5</text>
<line x1="203.60" y1="248.95" x2="206.80" y2="248.95" stroke="#1e1e1e" stroke-width="1.1"/>
<text x="201.40" y="251.15" font-size="6.7" text-anchor="end" fill="#3a3a3a" style="stroke:#3a3a3a;stroke-width:0.16px">10</text>
<line x1="203.60" y1="238.20" x2="206.80" y2="238.20" stroke="#1e1e1e" stroke-width="1.1"/>
<text x="201.40" y="240.40" font-size="6.7" text-anchor="end" fill="#3a3a3a" style="stroke:#3a3a3a;stroke-width:0.16px">15</text>
<line x1="203.60" y1="227.45" x2="206.80" y2="227.45" stroke="#1e1e1e" stroke-width="1.1"/>
<text x="201.40" y="229.65" font-size="6.7" text-anchor="end" fill="#3a3a3a" style="stroke:#3a3a3a;stroke-width:0.16px">20</text>
<line x1="203.60" y1="216.70" x2="206.80" y2="216.70" stroke="#1e1e1e" stroke-width="1.1"/>
<text x="201.40" y="218.90" font-size="6.7" text-anchor="end" fill="#3a3a3a" style="stroke:#3a3a3a;stroke-width:0.16px">25</text>
<line x1="203.60" y1="205.95" x2="206.80" y2="205.95" stroke="#1e1e1e" stroke-width="1.1"/>
<text x="201.40" y="208.15" font-size="6.7" text-anchor="end" fill="#3a3a3a" style="stroke:#3a3a3a;stroke-width:0.16px">30</text>
<line x1="203.60" y1="195.20" x2="206.80" y2="195.20" stroke="#1e1e1e" stroke-width="1.1"/>
<text x="201.40" y="197.40" font-size="6.7" text-anchor="end" fill="#3a3a3a" style="stroke:#3a3a3a;stroke-width:0.16px">35</text>
<rect x="210.20" y="230.67" width="6.60" height="39.78" fill="#134a86"/>
<rect x="216.80" y="206.81" width="6.60" height="63.64" fill="#cc0a2f"/>
<line x1="216.80" y1="270.45" x2="216.80" y2="272.75" stroke="#1e1e1e" stroke-width="1.0"/>
<text x="217.20" y="279.85" font-size="6.7" text-anchor="end" fill="#3a3a3a" style="stroke:#3a3a3a;stroke-width:0.1px" transform="rotate(-45 217.20 279.85)">Epistaxis</text>
<rect x="230.35" y="262.50" width="6.60" height="7.95" fill="#134a86"/>
<rect x="236.95" y="254.54" width="6.60" height="15.91" fill="#cc0a2f"/>
<line x1="236.95" y1="270.45" x2="236.95" y2="272.75" stroke="#1e1e1e" stroke-width="1.0"/>
<text x="237.35" y="279.85" font-size="6.7" text-anchor="end" fill="#3a3a3a" style="stroke:#3a3a3a;stroke-width:0.1px" transform="rotate(-45 237.35 279.85)">Hematoma</text>
<rect x="250.50" y="214.76" width="6.60" height="55.69" fill="#134a86"/>
<rect x="257.10" y="229.17" width="6.60" height="41.28" fill="#cc0a2f"/>
<line x1="257.10" y1="270.45" x2="257.10" y2="272.75" stroke="#1e1e1e" stroke-width="1.0"/>
<text x="257.50" y="279.85" font-size="6.7" text-anchor="end" fill="#3a3a3a" style="stroke:#3a3a3a;stroke-width:0.1px" transform="rotate(-45 257.50 279.85)">HMB</text>
<rect x="270.65" y="262.50" width="6.60" height="7.95" fill="#134a86"/>
<rect x="277.25" y="262.50" width="6.60" height="7.95" fill="#cc0a2f"/>
<line x1="277.25" y1="270.45" x2="277.25" y2="272.75" stroke="#1e1e1e" stroke-width="1.0"/>
<text x="277.65" y="279.85" font-size="6.7" text-anchor="end" fill="#3a3a3a" style="stroke:#3a3a3a;stroke-width:0.1px" transform="rotate(-45 277.65 279.85)">PPH</text>
<rect x="290.80" y="262.50" width="6.60" height="7.95" fill="#134a86"/>
<rect x="297.40" y="246.58" width="6.60" height="23.87" fill="#cc0a2f"/>
<line x1="297.40" y1="270.45" x2="297.40" y2="272.75" stroke="#1e1e1e" stroke-width="1.0"/>
<text x="297.80" y="279.85" font-size="6.7" text-anchor="end" fill="#3a3a3a" style="stroke:#3a3a3a;stroke-width:0.1px" transform="rotate(-45 297.80 279.85)">Surgery</text>
<rect x="310.95" y="246.58" width="6.60" height="23.87" fill="#134a86"/>
<rect x="317.55" y="254.54" width="6.60" height="15.91" fill="#cc0a2f"/>
<line x1="317.55" y1="270.45" x2="317.55" y2="272.75" stroke="#1e1e1e" stroke-width="1.0"/>
<text x="317.95" y="279.85" font-size="6.7" text-anchor="end" fill="#3a3a3a" style="stroke:#3a3a3a;stroke-width:0.1px" transform="rotate(-45 317.95 279.85)">Multitrauma</text>
<rect x="331.10" y="198.86" width="6.60" height="71.59" fill="#134a86"/>
<rect x="337.70" y="222.72" width="6.60" height="47.73" fill="#cc0a2f"/>
<line x1="337.70" y1="270.45" x2="337.70" y2="272.75" stroke="#1e1e1e" stroke-width="1.0"/>
<text x="338.10" y="279.85" font-size="6.7" text-anchor="end" fill="#3a3a3a" style="stroke:#3a3a3a;stroke-width:0.1px" transform="rotate(-45 338.10 279.85)">Other</text>
<rect x="226.80" y="183.00" width="5.70" height="5.70" fill="#173f72"/>
<rect x="283.00" y="183.00" width="5.70" height="5.70" fill="#c4002a"/>
<text x="235.60" y="188.00" font-size="6.1" text-anchor="start" fill="#3a3a3a" style="stroke:#3a3a3a;stroke-width:0.22px" textLength="38.5" lengthAdjust="spacing">Low VWF-QT</text>
<text x="292.20" y="188.00" font-size="6.1" text-anchor="start" fill="#3a3a3a" style="stroke:#3a3a3a;stroke-width:0.22px" textLength="37.5" lengthAdjust="spacing">Low VWF-QL</text>
<text x="177.60" y="232.50" font-size="8.5" text-anchor="middle" fill="#3a3a3a" style="stroke:#3a3a3a;stroke-width:0.2px" transform="rotate(-90 177.60 232.50)" textLength="47.5" lengthAdjust="spacingAndGlyphs">Bleeding during</text>
<text x="186.80" y="232.20" font-size="8.5" text-anchor="middle" fill="#3a3a3a" style="stroke:#3a3a3a;stroke-width:0.2px" transform="rotate(-90 186.80 232.20)" textLength="40" lengthAdjust="spacingAndGlyphs">follow-up (%)</text>
<text x="364.50" y="178.70" font-size="10.8" text-anchor="start" fill="#111" style="stroke:#111;stroke-width:0.35px" font-weight="bold">E</text>
<line x1="403.40" y1="191.90" x2="403.40" y2="272.75" stroke="#1e1e1e" stroke-width="1.2"/>
<line x1="400.00" y1="270.45" x2="512.58" y2="270.45" stroke="#1e1e1e" stroke-width="1.2"/>
<line x1="400.10" y1="270.45" x2="403.40" y2="270.45" stroke="#1e1e1e" stroke-width="1.1"/>
<text x="397.40" y="272.65" font-size="6.5" text-anchor="end" fill="#3a3a3a" style="stroke:#3a3a3a;stroke-width:0.16px">0</text>
<line x1="400.10" y1="255.35" x2="403.40" y2="255.35" stroke="#1e1e1e" stroke-width="1.1"/>
<text x="397.40" y="257.55" font-size="6.5" text-anchor="end" fill="#3a3a3a" style="stroke:#3a3a3a;stroke-width:0.16px">20</text>
<line x1="400.10" y1="240.25" x2="403.40" y2="240.25" stroke="#1e1e1e" stroke-width="1.1"/>
<text x="397.40" y="242.45" font-size="6.5" text-anchor="end" fill="#3a3a3a" style="stroke:#3a3a3a;stroke-width:0.16px">40</text>
<line x1="400.10" y1="225.15" x2="403.40" y2="225.15" stroke="#1e1e1e" stroke-width="1.1"/>
<text x="397.40" y="227.35" font-size="6.5" text-anchor="end" fill="#3a3a3a" style="stroke:#3a3a3a;stroke-width:0.16px">60</text>
<line x1="400.10" y1="210.05" x2="403.40" y2="210.05" stroke="#1e1e1e" stroke-width="1.1"/>
<text x="397.40" y="212.25" font-size="6.5" text-anchor="end" fill="#3a3a3a" style="stroke:#3a3a3a;stroke-width:0.16px">80</text>
<line x1="400.10" y1="194.95" x2="403.40" y2="194.95" stroke="#1e1e1e" stroke-width="1.1"/>
<text x="397.40" y="197.15" font-size="6.5" text-anchor="end" fill="#3a3a3a" style="stroke:#3a3a3a;stroke-width:0.16px">100</text>
<line x1="403.50" y1="270.45" x2="403.50" y2="273.25" stroke="#1e1e1e" stroke-width="1.1"/>
<text x="403.50" y="281.75" font-size="6.6" text-anchor="middle" fill="#3a3a3a" style="stroke:#3a3a3a;stroke-width:0.16px" textLength="3.2" lengthAdjust="spacingAndGlyphs">0</text>
<line x1="412.34" y1="270.45" x2="412.34" y2="273.25" stroke="#1e1e1e" stroke-width="1.1"/>
<text x="412.34" y="281.75" font-size="6.6" text-anchor="middle" fill="#3a3a3a" style="stroke:#3a3a3a;stroke-width:0.16px" textLength="3.2" lengthAdjust="spacingAndGlyphs">1</text>
<line x1="421.18" y1="270.45" x2="421.18" y2="273.25" stroke="#1e1e1e" stroke-width="1.1"/>
<text x="421.18" y="281.75" font-size="6.6" text-anchor="middle" fill="#3a3a3a" style="stroke:#3a3a3a;stroke-width:0.16px" textLength="3.2" lengthAdjust="spacingAndGlyphs">2</text>
<line x1="430.02" y1="270.45" x2="430.02" y2="273.25" stroke="#1e1e1e" stroke-width="1.1"/>
<text x="430.02" y="281.75" font-size="6.6" text-anchor="middle" fill="#3a3a3a" style="stroke:#3a3a3a;stroke-width:0.16px" textLength="3.2" lengthAdjust="spacingAndGlyphs">3</text>
<line x1="438.86" y1="270.45" x2="438.86" y2="273.25" stroke="#1e1e1e" stroke-width="1.1"/>
<text x="438.86" y="281.75" font-size="6.6" text-anchor="middle" fill="#3a3a3a" style="stroke:#3a3a3a;stroke-width:0.16px" textLength="3.2" lengthAdjust="spacingAndGlyphs">4</text>
<line x1="447.70" y1="270.45" x2="447.70" y2="273.25" stroke="#1e1e1e" stroke-width="1.1"/>
<text x="447.70" y="281.75" font-size="6.6" text-anchor="middle" fill="#3a3a3a" style="stroke:#3a3a3a;stroke-width:0.16px" textLength="3.2" lengthAdjust="spacingAndGlyphs">5</text>
<line x1="456.54" y1="270.45" x2="456.54" y2="273.25" stroke="#1e1e1e" stroke-width="1.1"/>
<text x="456.54" y="281.75" font-size="6.6" text-anchor="middle" fill="#3a3a3a" style="stroke:#3a3a3a;stroke-width:0.16px" textLength="3.2" lengthAdjust="spacingAndGlyphs">6</text>
<line x1="465.38" y1="270.45" x2="465.38" y2="273.25" stroke="#1e1e1e" stroke-width="1.1"/>
<text x="465.38" y="281.75" font-size="6.6" text-anchor="middle" fill="#3a3a3a" style="stroke:#3a3a3a;stroke-width:0.16px" textLength="3.2" lengthAdjust="spacingAndGlyphs">7</text>
<line x1="474.22" y1="270.45" x2="474.22" y2="273.25" stroke="#1e1e1e" stroke-width="1.1"/>
<text x="474.22" y="281.75" font-size="6.6" text-anchor="middle" fill="#3a3a3a" style="stroke:#3a3a3a;stroke-width:0.16px" textLength="3.2" lengthAdjust="spacingAndGlyphs">8</text>
<line x1="483.06" y1="270.45" x2="483.06" y2="273.25" stroke="#1e1e1e" stroke-width="1.1"/>
<text x="483.06" y="281.75" font-size="6.6" text-anchor="middle" fill="#3a3a3a" style="stroke:#3a3a3a;stroke-width:0.16px" textLength="3.2" lengthAdjust="spacingAndGlyphs">9</text>
<line x1="491.90" y1="270.45" x2="491.90" y2="273.25" stroke="#1e1e1e" stroke-width="1.1"/>
<text x="491.90" y="281.75" font-size="6.6" text-anchor="middle" fill="#3a3a3a" style="stroke:#3a3a3a;stroke-width:0.16px" textLength="6.4" lengthAdjust="spacingAndGlyphs">10</text>
<line x1="500.74" y1="270.45" x2="500.74" y2="273.25" stroke="#1e1e1e" stroke-width="1.1"/>
<text x="500.74" y="281.75" font-size="6.6" text-anchor="middle" fill="#3a3a3a" style="stroke:#3a3a3a;stroke-width:0.16px" textLength="6.4" lengthAdjust="spacingAndGlyphs">11</text>
<line x1="509.58" y1="270.45" x2="509.58" y2="273.25" stroke="#1e1e1e" stroke-width="1.1"/>
<text x="509.58" y="281.75" font-size="6.6" text-anchor="middle" fill="#3a3a3a" style="stroke:#3a3a3a;stroke-width:0.16px" textLength="6.4" lengthAdjust="spacingAndGlyphs">12</text>
<text x="458.14" y="293.90" font-size="8.6" text-anchor="middle" fill="#3a3a3a" style="stroke:#3a3a3a;stroke-width:0.25px" textLength="51" lengthAdjust="spacingAndGlyphs">Follow-up (years)</text>
<text x="371.50" y="230.70" font-size="8.5" text-anchor="middle" fill="#3a3a3a" style="stroke:#3a3a3a;stroke-width:0.2px" transform="rotate(-90 371.50 230.70)" textLength="55" lengthAdjust="spacingAndGlyphs">Bleeding requiring</text>
<text x="381.60" y="231.00" font-size="8.5" text-anchor="middle" fill="#3a3a3a" style="stroke:#3a3a3a;stroke-width:0.2px" transform="rotate(-90 381.60 231.00)" textLength="92" lengthAdjust="spacingAndGlyphs">treatment during follow-up (%)</text>
<text x="458.50" y="193.40" font-size="6.4" text-anchor="middle" fill="#3a3a3a" style="stroke:#3a3a3a;stroke-width:0.16px" textLength="23" lengthAdjust="spacingAndGlyphs"><tspan font-style="italic">P</tspan> = .045</text>
<line x1="409.80" y1="204.80" x2="421.20" y2="204.80" stroke="#134a86" stroke-width="1.0"/>
<line x1="415.50" y1="203.00" x2="415.50" y2="206.40" stroke="#134a86" stroke-width="0.8"/>
<line x1="409.80" y1="214.30" x2="421.20" y2="214.30" stroke="#cc0a2f" stroke-width="1.0"/>
<line x1="415.50" y1="212.50" x2="415.50" y2="215.90" stroke="#cc0a2f" stroke-width="0.8"/>
<text x="424.70" y="206.90" font-size="6.2" text-anchor="start" fill="#3a3a3a" style="stroke:#3a3a3a;stroke-width:0.1px" textLength="38" lengthAdjust="spacing">Low VWF-QT</text>
<text x="424.70" y="216.50" font-size="6.2" text-anchor="start" fill="#3a3a3a" style="stroke:#3a3a3a;stroke-width:0.1px" textLength="38" lengthAdjust="spacing">Low VWF-QL</text>
<path d="M403.50,270.45 L403.68,266.68 L406.15,266.30 L409.25,264.64 L410.57,263.65 L414.11,262.52 L426.48,262.52 L426.48,261.16 L438.42,261.16 L438.42,260.48 L440.63,260.48 L440.63,259.28 L446.82,259.28 L446.82,257.39 L509.58,257.39" fill="none" stroke="#1a4a80" stroke-width="0.9" stroke-linejoin="miter"/>
<path d="M403.50,270.45 L405.27,269.85 L408.98,268.56 L409.86,265.92 L410.40,259.35 L412.34,259.35 L412.34,257.62 L414.11,257.62 L414.11,256.48 L417.64,256.48 L417.64,254.97 L420.12,254.97 L420.12,253.54 L422.95,253.54 L422.95,252.71 L425.60,252.71 L425.60,250.97 L436.21,250.97 L436.21,248.63 L450.62,248.63 L450.62,245.84 L454.33,245.84 L454.33,242.59 L475.63,242.59 L475.63,237.68 L490.84,237.68 L490.84,216.84 L497.47,216.84" fill="none" stroke="#bf1540" stroke-width="0.9" stroke-linejoin="miter"/>
<line x1="430.02" y1="259.76" x2="430.02" y2="261.36" stroke="#1a4a80" stroke-width="0.7"/>
<line x1="433.56" y1="259.76" x2="433.56" y2="261.36" stroke="#1a4a80" stroke-width="0.7"/>
<line x1="442.40" y1="257.88" x2="442.40" y2="259.48" stroke="#1a4a80" stroke-width="0.7"/>
<line x1="450.35" y1="255.99" x2="450.35" y2="257.59" stroke="#1a4a80" stroke-width="0.7"/>
<line x1="453.89" y1="255.99" x2="453.89" y2="257.59" stroke="#1a4a80" stroke-width="0.7"/>
<line x1="457.42" y1="255.99" x2="457.42" y2="257.59" stroke="#1a4a80" stroke-width="0.7"/>
<line x1="461.84" y1="255.99" x2="461.84" y2="257.59" stroke="#1a4a80" stroke-width="0.7"/>
<line x1="465.38" y1="255.99" x2="465.38" y2="257.59" stroke="#1a4a80" stroke-width="0.7"/>
<line x1="468.92" y1="255.99" x2="468.92" y2="257.59" stroke="#1a4a80" stroke-width="0.7"/>
<line x1="474.22" y1="255.99" x2="474.22" y2="257.59" stroke="#1a4a80" stroke-width="0.7"/>
<line x1="477.76" y1="255.99" x2="477.76" y2="257.59" stroke="#1a4a80" stroke-width="0.7"/>
<line x1="483.06" y1="255.99" x2="483.06" y2="257.59" stroke="#1a4a80" stroke-width="0.7"/>
<line x1="488.36" y1="255.99" x2="488.36" y2="257.59" stroke="#1a4a80" stroke-width="0.7"/>
<line x1="493.67" y1="255.99" x2="493.67" y2="257.59" stroke="#1a4a80" stroke-width="0.7"/>
<line x1="498.97" y1="255.99" x2="498.97" y2="257.59" stroke="#1a4a80" stroke-width="0.7"/>
<line x1="505.16" y1="255.99" x2="505.16" y2="257.59" stroke="#1a4a80" stroke-width="0.7"/>
<line x1="427.37" y1="249.57" x2="427.37" y2="251.17" stroke="#bf1540" stroke-width="0.7"/>
<line x1="430.90" y1="249.57" x2="430.90" y2="251.17" stroke="#bf1540" stroke-width="0.7"/>
<line x1="440.63" y1="247.23" x2="440.63" y2="248.83" stroke="#bf1540" stroke-width="0.7"/>
<line x1="444.16" y1="247.23" x2="444.16" y2="248.83" stroke="#bf1540" stroke-width="0.7"/>
<line x1="457.42" y1="241.19" x2="457.42" y2="242.79" stroke="#bf1540" stroke-width="0.7"/>
<line x1="461.84" y1="241.19" x2="461.84" y2="242.79" stroke="#bf1540" stroke-width="0.7"/>
<line x1="466.26" y1="241.19" x2="466.26" y2="242.79" stroke="#bf1540" stroke-width="0.7"/>
<line x1="470.68" y1="241.19" x2="470.68" y2="242.79" stroke="#bf1540" stroke-width="0.7"/>
<line x1="478.64" y1="236.28" x2="478.64" y2="237.88" stroke="#bf1540" stroke-width="0.7"/>
<line x1="483.94" y1="236.28" x2="483.94" y2="237.88" stroke="#bf1540" stroke-width="0.7"/>
<rect x="0" y="0" width="520" height="1" fill="#5a5a5a"/>
<rect x="0" y="1" width="520" height="0.3" fill="#bbbbbb"/>
<rect x="0" y="0" width="1.15" height="312" fill="#4a4a4a"/>
<rect x="518.6" y="0" width="1.4" height="312" fill="#6a6a6a"/>
<rect x="0" y="310.6" width="520" height="1.4" fill="#3a3a3a"/>
</svg></body></html>
